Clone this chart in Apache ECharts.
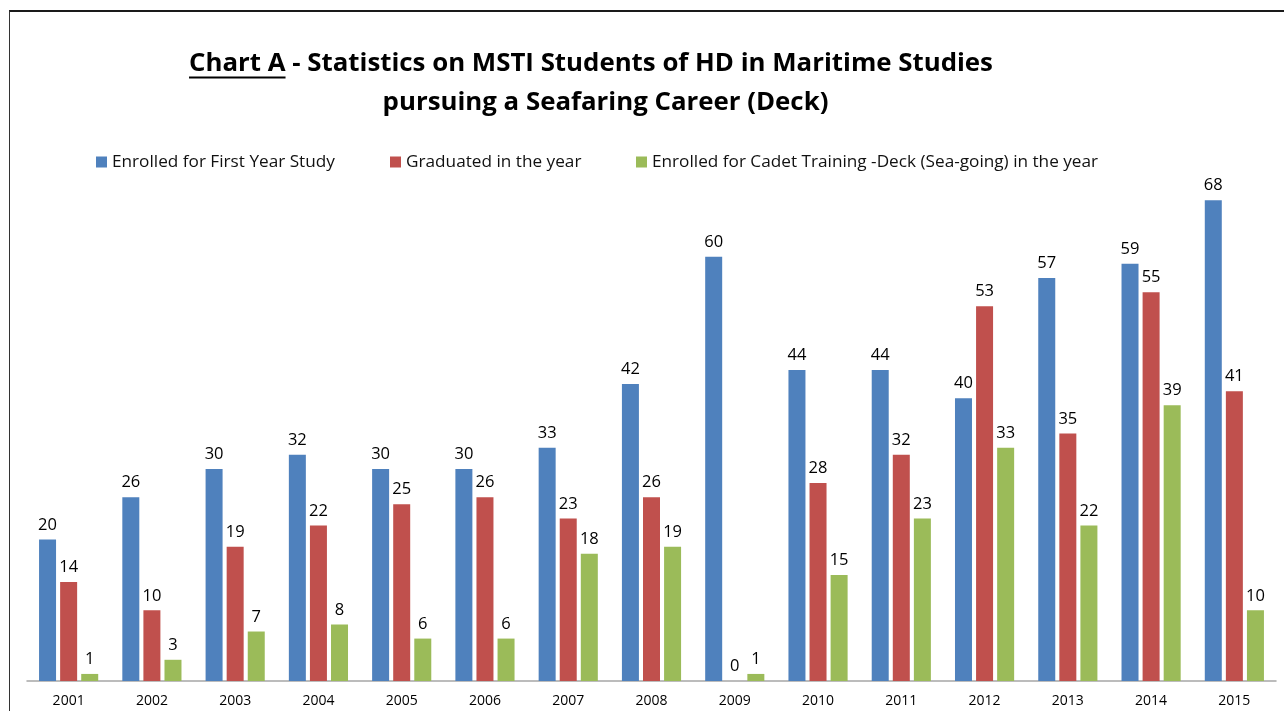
<!DOCTYPE html>
<html>
<head>
<meta charset="utf-8">
<script src="https://cdn.jsdelivr.net/npm/echarts@6/dist/echarts.min.js"></script>
<style>
html,body{margin:0;padding:0;background:#fff;}
#wrap{position:relative;width:1284px;height:711px;overflow:hidden;background:#fff;}
#frame{position:absolute;left:9px;top:10px;width:1290px;height:720px;border-top:2px solid #1a1a1a;border-left:1px solid #333;box-sizing:border-box;}
#chart{position:absolute;left:0;top:0;width:1284px;height:711px;}
</style>
</head>
<body>
<div id="wrap"><div id="frame"></div><div id="chart"></div></div>
<script>
const categories = ['2001','2002','2003','2004','2005','2006','2007','2008','2009','2010','2011','2012','2013','2014','2015'];
const seriesNames = ['Enrolled for First Year Study','Graduated in the year','Enrolled for Cadet Training -Deck (Sea-going) in the year'];
const enrolledFirstYear = [20,26,30,32,30,30,33,42,60,44,44,40,57,59,68];
const graduated = [14,10,19,22,25,26,23,26,0,28,32,53,35,55,41];
const cadetTraining = [1,3,7,8,6,6,18,19,1,15,23,33,22,39,10];
const titleUnderlined = 'Chart A';
const titleRest = ' - Statistics on MSTI Students of HD in Maritime Studies';
const titleLine2 = 'pursuing a Seafaring Career (Deck)';

const FAMILY = '"Open Sans", "Noto Sans", sans-serif';
const colors = ['#4F81BD','#C0504D','#9BBB59'];

const cv = document.createElement('canvas').getContext('2d');
function measure(text, weight, size){ cv.font = weight + ' ' + size + 'px ' + FAMILY; return cv.measureText(text).width; }
function fit(text, weight, target){ return 100 * target / measure(text, weight, 100); }

const line1 = titleUnderlined + titleRest;
const tSize = fit(line1, 'bold', 804);
const l1W = measure(line1, 'bold', tSize);
const l1Left = 591 - l1W/2;
const uW = measure(titleUnderlined, 'bold', tSize);
const legSize = fit(seriesNames[0], 'normal', 223);

const chart = echarts.init(document.getElementById('chart'), null, {renderer:'canvas'});
const legendLefts = [91, 385, 631];
const option = {
  animation: false,
  color: colors,
  textStyle: {fontFamily: FAMILY},
  graphic: [
    {type:'text', left: l1Left, top: 68 - tSize*0.68, style:{text: line1, font: 'bold ' + tSize + 'px ' + FAMILY, fill:'#000'}},
    {type:'rect', shape:{x: l1Left, y: 76.5, width: uW, height: 2}, style:{fill:'#000'}},
    {type:'text', x: 605.5, y: 103, style:{text: titleLine2, font: 'bold ' + tSize + 'px ' + FAMILY, fill:'#000', align:'center', verticalAlign:'middle'}}
  ],
  legend: seriesNames.map((n,i)=>({
    data:[n], left: legendLefts[i], top: 147, icon:'rect', itemWidth:11, itemHeight:11, itemGap:5,
    selectedMode:false,
    textStyle:{fontSize: legSize, color:'#111', fontFamily: FAMILY, lineHeight:20}
  })),
  grid: {left: 27, right: 8, top: 115.4, bottom: 30, containLabel:false},
  xAxis: {
    type:'category', data: categories,
    axisLine:{show:true, lineStyle:{color:'#A6A6A6', width:1.5}},
    axisTick:{show:false},
    axisLabel:{fontSize:14, color:'#000', margin:13, fontFamily: FAMILY}
  },
  yAxis: {type:'value', min:0, max:80, show:false, splitLine:{show:false}},
  series: [enrolledFirstYear, graduated, cadetTraining].map((d,i)=>({
    name: seriesNames[i], type:'bar', data: d, barWidth:17, barGap:'24%',
    itemStyle:{color: colors[i]},
    label:{show:true, position:'top', distance:6, color:'#000', fontSize:16.5, fontFamily: FAMILY}
  }))
};
chart.setOption(option);
</script>
</body>
</html>
